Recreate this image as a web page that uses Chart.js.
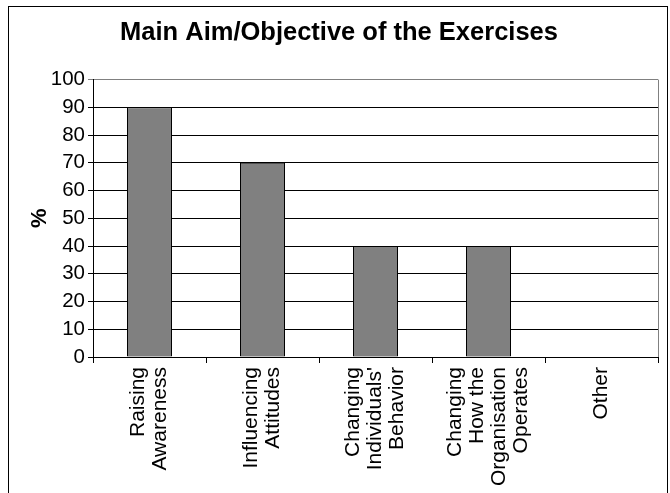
<!DOCTYPE html>
<html>
<head>
<meta charset="utf-8">
<script src="https://cdn.jsdelivr.net/npm/chart.js@4/dist/chart.umd.min.js"></script>
<style>
  html, body { margin: 0; padding: 0; background: #fff; }
  #wrap { position: relative; width: 670px; height: 493px; }
  #frame { position: absolute; left: 8px; top: 6px; width: 660px; height: 600px;
           border: 1px solid #000; box-sizing: border-box; pointer-events: none; }
  canvas { position: absolute; left: 0; top: 0; }
</style>
</head>
<body>
<div id="wrap">
  <canvas id="chart" width="670" height="493"></canvas>
  <div id="frame"></div>
</div>
<script>
// Survey results: main aim of the exercises (% of respondents)
const categories = [
  ["Raising", "Awareness"],
  ["Influencing", "Attitudes"],
  ["Changing", "Individuals'", "Behavior"],
  ["Changing", "How the", "Organisation", "Operates"],
  ["Other"]
];
const percentValues = [90, 70, 40, 40, 0];
const yTicks = [0, 10, 20, 30, 40, 50, 60, 70, 80, 90, 100];

const FONT = "'Liberation Sans', Arial, Helvetica, sans-serif";
const X_FONT_SIZE = 21;
const X_LINE_HEIGHT = 22;

// Centre multi-line rotated category labels on their tick
const centerRotatedLabels = {
  id: 'centerRotatedLabels',
  beforeDraw(chart) {
    const xs = chart.scales.x;
    const items = xs.getLabelItems(chart.chartArea);
    items.forEach(item => {
      if (item._centered) return;
      const n = Array.isArray(item.label) ? item.label.length : 1;
      item.options.translation[0] -= (n - 1) * X_LINE_HEIGHT / 2;
      item._centered = true;
    });
  }
};

// Grey plot-area border on the right side
const plotBorder = {
  id: 'plotBorder',
  afterDraw(chart) {
    const { ctx, chartArea: a } = chart;
    ctx.save();
    ctx.strokeStyle = '#808080';
    ctx.lineWidth = 1;
    ctx.beginPath();
    ctx.moveTo(Math.round(a.right) + 0.5, a.top);
    ctx.lineTo(Math.round(a.right) + 0.5, a.bottom);
    ctx.stroke();
    ctx.restore();
  }
};

new Chart(document.getElementById('chart'), {
  type: 'bar',
  data: {
    labels: categories,
    datasets: [{
      data: percentValues,
      backgroundColor: '#808080',
      borderColor: '#000000',
      borderWidth: 1,
      borderSkipped: false,
      categoryPercentage: 1.0,
      barPercentage: 45 / 113
    }]
  },
  options: {
    responsive: false,
    animation: false,
    devicePixelRatio: 1,
    layout: { padding: { left: 20, right: 12, top: 0, bottom: 0 } },
    plugins: {
      legend: { display: false },
      tooltip: { enabled: false },
      title: {
        display: true,
        text: 'Main Aim/Objective of the Exercises',
        color: '#000',
        font: { family: FONT, size: 25.5, weight: 'bold', lineHeight: 1.2 },
        padding: { top: 18, bottom: 31 }
      }
    },
    scales: {
      x: {
        grid: {
          display: true,
          drawOnChartArea: false,
          drawTicks: true,
          tickLength: 6,
          color: '#000',
          offset: true
        },
        border: { display: true, color: '#000', width: 1 },
        ticks: {
          color: '#000',
          font: { family: FONT, size: X_FONT_SIZE, lineHeight: X_LINE_HEIGHT / X_FONT_SIZE },
          maxRotation: 90,
          minRotation: 90,
          autoSkip: false,
          padding: 4
        },
        afterFit(scale) { scale.height = 136; }
      },
      y: {
        min: 0,
        max: 100,
        afterBuildTicks(scale) {
          scale.ticks = yTicks.map(v => ({ value: v }));
        },
        grid: {
          color: ctx => (ctx.tick && ctx.tick.value === 100 ? '#808080' : '#000'),
          tickLength: 5,
          drawTicks: true
        },
        border: { display: true, color: '#000', width: 1 },
        ticks: {
          color: '#000',
          font: { family: FONT, size: 20.5 },
          padding: 3
        },
        title: {
          display: true,
          text: '%',
          color: '#000',
          font: { family: FONT, size: 22, weight: 'bold', lineHeight: 1.2 },
          padding: { top: 7, bottom: 0 }
        },
        afterFit(scale) { scale.width = 73; }
      }
    }
  },
  plugins: [centerRotatedLabels, plotBorder]
});
</script>
</body>
</html>
